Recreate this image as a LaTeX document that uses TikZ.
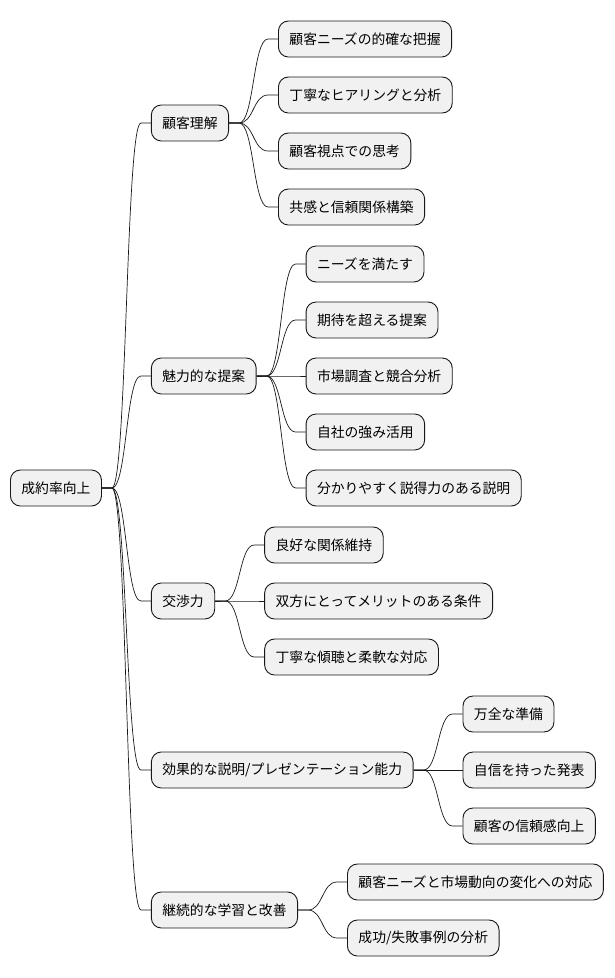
\documentclass[tikz,border=0pt]{standalone}
\usepackage{fontspec}
\setmainfont{Noto Sans CJK JP}
\usetikzlibrary{positioning}
\definecolor{boxgray}{HTML}{F1F1F1}
\definecolor{edgegray}{HTML}{181818}
\tikzstyle{topic} = [
    rectangle,
    rounded corners=10pt,
    minimum height=36pt,
    inner xsep=11pt,
    draw=edgegray,
    fill=boxgray,
    line width=0.9pt,
    anchor=west,
    font=\fontsize{13.8}{16}\selectfont
]
\tikzstyle{branch} = [
    draw=edgegray,
    line width=0.7pt,
    to path={(\tikztostart.east) -- ++(10pt,0pt)
        .. controls +(15pt,0pt) and +(-15pt,0pt) .. ([xshift=-10pt]\tikztotarget.west)
        -- (\tikztotarget.west)}
]
\begin{document}
\begin{tikzpicture}[x=1pt, y=-1pt, node distance=49pt]
\useasboundingbox (0,0) rectangle (614,978);

\node (goal) [topic] at (10,488) {成約率向上};

% first level
\node (understand) [topic, right=of goal, yshift=365pt] {顧客理解};
\node (proposal) [topic, right=of goal, yshift=112pt] {魅力的な提案};
\node (negotiate) [topic, right=of goal, yshift=-113pt] {交渉力};
\node (present) [topic, right=of goal, yshift=-282pt] {効果的な説明/プレゼンテーション能力};
\node (learning) [topic, right=of goal, yshift=-422pt] {継続的な学習と改善};

% 顧客理解
\node (needs) [topic, right=of understand, yshift=84pt] {顧客ニーズの的確な把握};
\node (hearing) [topic, right=of understand, yshift=28pt] {丁寧なヒアリングと分析};
\node (viewpoint) [topic, right=of understand, yshift=-28pt] {顧客視点での思考};
\node (trust) [topic, right=of understand, yshift=-84pt] {共感と信頼関係構築};

% 魅力的な提案
\node (satisfy) [topic, right=of proposal, yshift=112pt] {ニーズを満たす};
\node (exceed) [topic, right=of proposal, yshift=56pt] {期待を超える提案};
\node (market) [topic, right=of proposal] {市場調査と競合分析};
\node (strength) [topic, right=of proposal, yshift=-56pt] {自社の強み活用};
\node (explain) [topic, right=of proposal, yshift=-112pt] {分かりやすく説得力のある説明};

% 交渉力
\node (relation) [topic, right=of negotiate, yshift=56pt] {良好な関係維持};
\node (winwin) [topic, right=of negotiate] {双方にとってメリットのある条件};
\node (listen) [topic, right=of negotiate, yshift=-56pt] {丁寧な傾聴と柔軟な対応};

% 効果的な説明
\node (prepare) [topic, right=of present, yshift=56pt] {万全な準備};
\node (confident) [topic, right=of present] {自信を持った発表};
\node (credible) [topic, right=of present, yshift=-56pt] {顧客の信頼感向上};

% 継続的な学習
\node (change) [topic, right=of learning, yshift=28pt] {顧客ニーズと市場動向の変化への対応};
\node (review) [topic, right=of learning, yshift=-28pt] {成功/失敗事例の分析};

% Connectors
\draw [branch] (goal) to (understand);
\draw [branch] (goal) to (proposal);
\draw [branch] (goal) to (negotiate);
\draw [branch] (goal) to (present);
\draw [branch] (goal) to (learning);

\draw [branch] (understand) to (needs);
\draw [branch] (understand) to (hearing);
\draw [branch] (understand) to (viewpoint);
\draw [branch] (understand) to (trust);

\draw [branch] (proposal) to (satisfy);
\draw [branch] (proposal) to (exceed);
\draw [branch] (proposal) to (market);
\draw [branch] (proposal) to (strength);
\draw [branch] (proposal) to (explain);

\draw [branch] (negotiate) to (relation);
\draw [branch] (negotiate) to (winwin);
\draw [branch] (negotiate) to (listen);

\draw [branch] (present) to (prepare);
\draw [branch] (present) to (confident);
\draw [branch] (present) to (credible);

\draw [branch] (learning) to (change);
\draw [branch] (learning) to (review);

\end{tikzpicture}
\end{document}
